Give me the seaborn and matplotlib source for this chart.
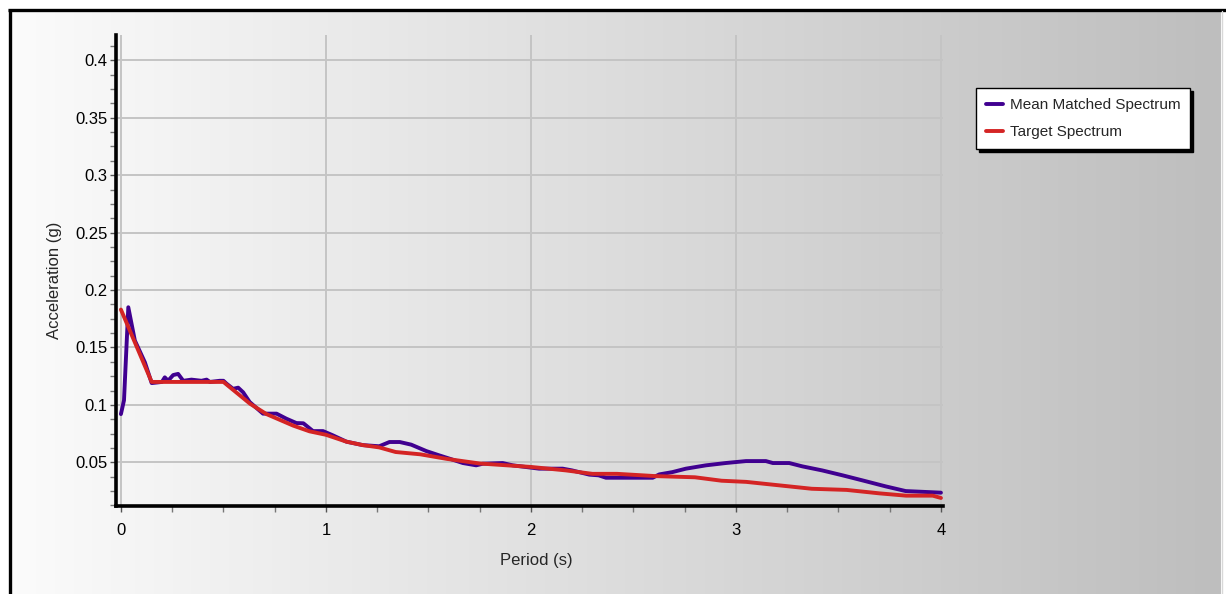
import numpy as np
import pandas as pd
import matplotlib
matplotlib.use("Agg")
import matplotlib.pyplot as plt
import seaborn as sns
from matplotlib.ticker import MultipleLocator, FormatStrFormatter
from matplotlib.lines import Line2D

# ---- data ----
period_target = [0, 0.15, 0.5, 0.63, 0.71, 0.84, 0.92, 1.0, 1.1, 1.18, 1.26, 1.34, 1.46, 1.59,
                 1.75, 2.0, 2.17, 2.3, 2.42, 2.61, 2.8, 2.93, 3.05, 3.21, 3.37, 3.54, 3.7,
                 3.83, 3.96, 4.0]
accel_target = [0.183, 0.12, 0.12, 0.101, 0.092, 0.082, 0.077, 0.074, 0.068, 0.065, 0.063,
                0.059, 0.057, 0.053, 0.049, 0.046, 0.043, 0.040, 0.040, 0.038, 0.037, 0.034,
                0.033, 0.030, 0.027, 0.026, 0.023, 0.021, 0.021, 0.019]

period_mean = [0, 0.015, 0.036, 0.068, 0.117, 0.15, 0.2, 0.214, 0.23, 0.255, 0.279, 0.304,
               0.344, 0.393, 0.418, 0.434, 0.482, 0.5, 0.515, 0.547, 0.572, 0.596, 0.628,
               0.693, 0.759, 0.807, 0.856, 0.89, 0.937, 0.986, 1.034, 1.1, 1.18, 1.26, 1.31,
               1.36, 1.416, 1.49, 1.554, 1.603, 1.668, 1.733, 1.765, 1.862, 1.911, 2.04,
               2.155, 2.2, 2.285, 2.33, 2.366, 2.594, 2.626, 2.69, 2.756, 2.854, 2.95, 3.049,
               3.146, 3.18, 3.26, 3.324, 3.42, 3.52, 3.617, 3.73, 3.828, 3.94, 4.0]
accel_mean = [0.092, 0.104, 0.185, 0.156, 0.137, 0.119, 0.12, 0.124, 0.121, 0.126, 0.127,
              0.121, 0.122, 0.121, 0.122, 0.12, 0.121, 0.121, 0.1185, 0.114, 0.115, 0.111,
              0.1025, 0.0924, 0.0924, 0.088, 0.0842, 0.084, 0.0772, 0.0772, 0.0735, 0.068,
              0.065, 0.064, 0.0677, 0.0677, 0.0654, 0.0598, 0.056, 0.0532, 0.0494, 0.0474,
              0.0488, 0.0494, 0.0474, 0.0445, 0.0445, 0.043, 0.0393, 0.0387, 0.0366, 0.0366,
              0.0395, 0.0415, 0.0445, 0.0474, 0.0494, 0.0511, 0.0511, 0.0494, 0.0494, 0.0465,
              0.043, 0.0387, 0.0343, 0.0291, 0.025, 0.0241, 0.0236]

series_names = ["Mean Matched Spectrum", "Target Spectrum"]
series_colors = ["#400090", "#d42424"]
x_ticks = [0, 1, 2, 3, 4]
y_ticks = [0.05, 0.1, 0.15, 0.2, 0.25, 0.3, 0.35, 0.4]

sns.set_style("white")
plt.rcParams["font.family"] = ["Liberation Sans", "DejaVu Sans"]

W, H = 1226, 594
fig = plt.figure(figsize=(W / 100, H / 100), dpi=100)
fig.patch.set_facecolor("white")

# background gradient
bg = fig.add_axes([0, 0, 1, 1], zorder=-10)
bg.set_xlim(0, W)
bg.set_ylim(H, 0)
bg.axis("off")
grad = np.linspace(0, 1, 256)[None, :]
cmap = matplotlib.colors.LinearSegmentedColormap.from_list("g", ["#fbfbfb", "#bebebe"])
bg.imshow(grad, cmap=cmap, extent=[10, 1221, H, 10], aspect="auto", interpolation="bicubic")
bg.plot([9.5, 9.5], [9, H], color="black", lw=2.4, solid_capstyle="butt")
bg.plot([8, W], [9.5, 9.5], color="black", lw=2.4, solid_capstyle="butt")
bg.plot([1221.5, 1221.5], [11, H], color="#d8d8d8", lw=1)

# main axes
ax = fig.add_axes([116 / W, 1 - 506 / H, (943 - 116) / W, (506 - 35) / H])
ax.patch.set_alpha(0)

df = pd.DataFrame({
    "Period": period_mean + period_target,
    "Accel": accel_mean + accel_target,
    "Series": [series_names[0]] * len(period_mean) + [series_names[1]] * len(period_target),
})
sns.lineplot(data=df, x="Period", y="Accel", hue="Series", palette=series_colors,
             sort=False, lw=2.8, ax=ax, legend=False)

ax.set_xlim(-0.024, 4.01)
ax.set_ylim(0.012, 0.422)
ax.set_xticks(x_ticks)
ax.set_yticks(y_ticks)
ax.xaxis.set_minor_locator(MultipleLocator(0.25))
ax.yaxis.set_minor_locator(MultipleLocator(0.0125))
ax.yaxis.set_major_formatter(FormatStrFormatter("%g"))
ax.xaxis.set_major_formatter(FormatStrFormatter("%g"))
ax.grid(True, which="major", color="#c4c4c4", lw=1.4)
ax.set_axisbelow(True)

for s in ["top", "right"]:
    ax.spines[s].set_visible(False)
for s in ["left", "bottom"]:
    ax.spines[s].set_color("black")
    ax.spines[s].set_linewidth(2.6)

ax.tick_params(axis="both", which="both", bottom=True, left=True, top=False, right=False)
ax.tick_params(axis="both", which="major", direction="out", length=4.5, width=1,
               color="#555555", labelsize=12, labelcolor="black", pad=1.5)
ax.tick_params(axis="x", which="major", pad=8)
ax.tick_params(axis="both", which="minor", direction="out", length=4, width=1, color="#777777")

ax.set_xlabel("Period (s)", fontsize=12)
ax.set_ylabel("Acceleration (g)", fontsize=12)
ax.xaxis.set_label_coords((536 - 116) / 827, -(553 - 506) / 471)
ax.yaxis.set_label_coords((62 - 116) / 827, (506 - 280) / 471)

handles = [Line2D([], [], color=c, lw=2.8) for c in series_colors]
leg = fig.legend(handles, series_names, loc="upper left",
                 bbox_to_anchor=(976 / W, 1 - 88 / H), fontsize=11,
                 frameon=True, fancybox=False, shadow={"color": "black", "alpha": 1},
                 handlelength=1.1, handletextpad=0.45, labelspacing=0.85,
                 borderpad=0.65, borderaxespad=0)
leg.get_frame().set_edgecolor("black")
leg.get_frame().set_linewidth(1)
leg.get_frame().set_facecolor("white")

fig.savefig("out.png", dpi=100)
